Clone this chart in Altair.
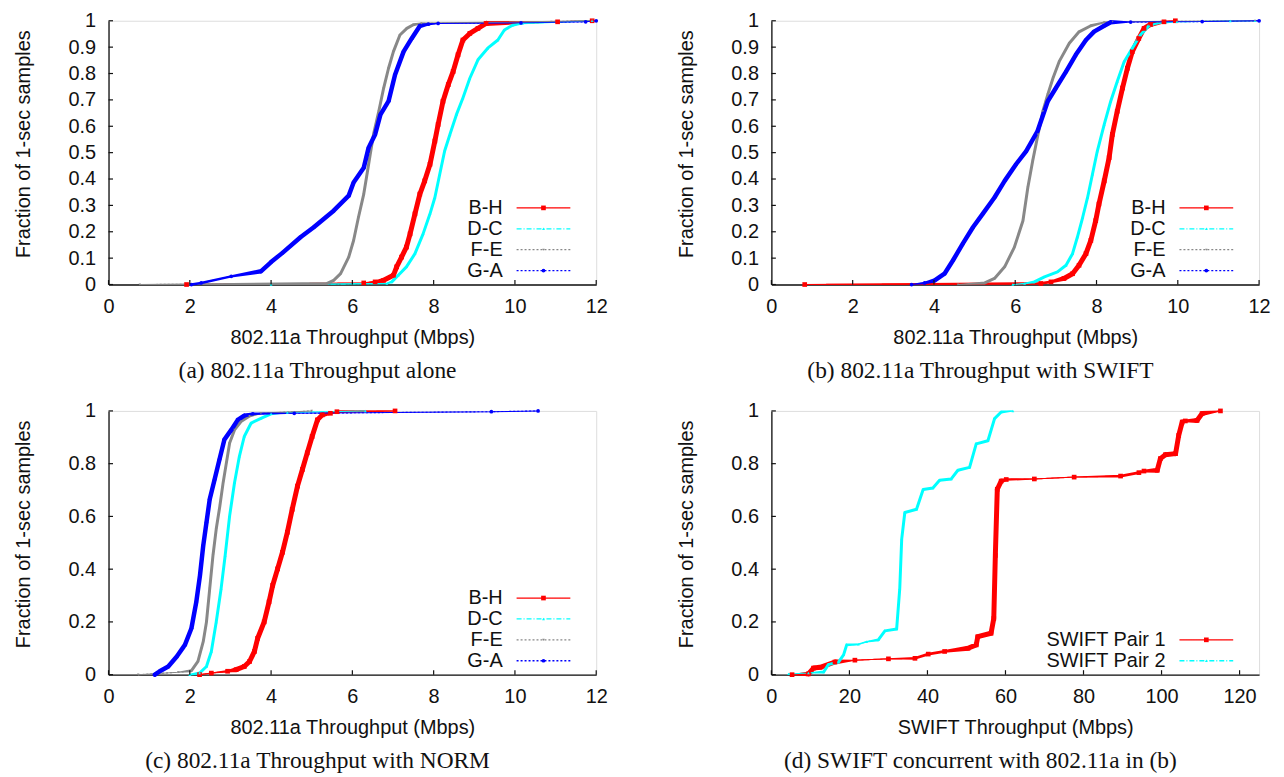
import altair as alt
import pandas as pd

# ---------------- data ----------------
PAIR_NAMES = ["B-H", "D-C", "F-E", "G-A"]
SWIFT_NAMES = ["SWIFT Pair 1", "SWIFT Pair 2"]

# (a) 802.11a alone
BH_a_x = [1.92, 6.28, 6.56, 6.77, 7.01, 7.09, 7.21, 7.33, 7.42, 7.54, 7.66, 7.78, 7.91, 8.03, 8.11, 8.23, 8.36, 8.48, 8.60, 8.72, 8.89, 9.09, 9.29, 11.05, 11.9]
BH_a_y = [0.0, 0.006, 0.010, 0.016, 0.035, 0.067, 0.104, 0.142, 0.192, 0.268, 0.343, 0.393, 0.456, 0.544, 0.607, 0.695, 0.758, 0.808, 0.871, 0.927, 0.952, 0.971, 0.990, 0.996, 1.0]
DC_a_x = [4.0, 6.85, 6.97, 7.13, 7.33, 7.54, 7.74, 7.91, 8.03, 8.15, 8.27, 8.40, 8.56, 8.72, 8.89, 9.09, 9.33, 9.58, 9.74, 9.94, 10.19, 11.9]
DC_a_y = [0.0, 0.004, 0.010, 0.035, 0.067, 0.117, 0.192, 0.268, 0.330, 0.418, 0.506, 0.569, 0.644, 0.707, 0.782, 0.852, 0.896, 0.927, 0.965, 0.983, 0.990, 1.0]
FE_a_x = [0.77, 5.38, 5.54, 5.71, 5.91, 6.03, 6.15, 6.28, 6.36, 6.44, 6.52, 6.65, 6.77, 6.89, 7.01, 7.17, 7.34, 7.50, 7.70, 11.9]
FE_a_y = [0.0, 0.004, 0.016, 0.041, 0.104, 0.167, 0.255, 0.343, 0.418, 0.494, 0.569, 0.657, 0.745, 0.820, 0.883, 0.946, 0.971, 0.985, 0.990, 1.0]
GA_a_x = [2.04, 2.28, 3.02, 3.75, 4.00, 4.28, 4.73, 5.05, 5.54, 5.91, 6.03, 6.28, 6.40, 6.56, 6.69, 6.89, 7.05, 7.26, 7.46, 7.66, 7.87, 8.11, 10.15, 11.74, 12.0]
GA_a_y = [0.0, 0.006, 0.031, 0.050, 0.085, 0.120, 0.180, 0.217, 0.280, 0.337, 0.387, 0.443, 0.519, 0.569, 0.644, 0.695, 0.795, 0.883, 0.933, 0.980, 0.987, 0.990, 0.992, 0.996, 1.0]

# (b) 802.11a with SWIFT
BH_b_x = [0.82, 6.63, 6.88, 7.20, 7.41, 7.57, 7.74, 7.86, 7.98, 8.06, 8.19, 8.31, 8.39, 8.51, 8.64, 8.76, 8.88, 9.04, 9.17, 9.33, 9.66, 9.94]
BH_b_y = [0.0, 0.004, 0.010, 0.023, 0.041, 0.073, 0.117, 0.167, 0.242, 0.305, 0.393, 0.481, 0.569, 0.657, 0.745, 0.820, 0.883, 0.933, 0.971, 0.986, 0.996, 1.0]
DC_b_x = [5.94, 6.23, 6.47, 6.72, 7.04, 7.25, 7.41, 7.53, 7.66, 7.78, 7.90, 8.02, 8.19, 8.35, 8.51, 8.68, 8.88, 9.08, 9.29, 9.49, 9.98, 11.29, 11.9]
DC_b_y = [0.0, 0.004, 0.010, 0.029, 0.048, 0.073, 0.117, 0.180, 0.255, 0.330, 0.418, 0.506, 0.607, 0.695, 0.770, 0.845, 0.896, 0.946, 0.981, 0.990, 0.996, 0.999, 1.0]
FE_b_x = [4.59, 5.25, 5.49, 5.74, 5.98, 6.19, 6.31, 6.43, 6.56, 6.68, 6.80, 6.93, 7.08, 7.33, 7.57, 7.86, 8.19, 8.39, 11.9]
FE_b_y = [0.0, 0.006, 0.023, 0.067, 0.142, 0.242, 0.368, 0.469, 0.569, 0.657, 0.720, 0.783, 0.845, 0.915, 0.958, 0.981, 0.994, 0.996, 1.0]
GA_b_x = [3.45, 3.77, 4.02, 4.26, 4.47, 4.71, 4.96, 5.20, 5.49, 5.74, 6.02, 6.27, 6.55, 6.80, 7.00, 7.25, 7.49, 7.74, 7.94, 8.19, 8.35, 8.84, 10.60, 12.0]
GA_b_y = [0.0, 0.006, 0.016, 0.041, 0.092, 0.155, 0.217, 0.268, 0.330, 0.393, 0.456, 0.506, 0.582, 0.695, 0.745, 0.807, 0.871, 0.927, 0.959, 0.981, 0.994, 0.995, 0.997, 1.0]

# (c) 802.11a with NORM
BH_c_x = [2.24, 2.53, 2.93, 3.14, 3.34, 3.47, 3.59, 3.67, 3.83, 3.95, 4.04, 4.16, 4.28, 4.40, 4.52, 4.65, 4.77, 4.89, 5.01, 5.14, 5.26, 5.46, 5.62, 7.05]
BH_c_y = [0.0, 0.006, 0.013, 0.019, 0.031, 0.050, 0.088, 0.138, 0.200, 0.276, 0.339, 0.401, 0.464, 0.540, 0.627, 0.715, 0.778, 0.841, 0.903, 0.966, 0.985, 0.991, 0.997, 1.0]
DC_c_x = [2.00, 2.24, 2.41, 2.53, 2.65, 2.77, 2.87, 2.98, 3.10, 3.22, 3.34, 3.51, 3.75, 4.00, 4.40, 6.32]
DC_c_y = [0.0, 0.006, 0.031, 0.088, 0.200, 0.326, 0.452, 0.602, 0.728, 0.828, 0.903, 0.954, 0.972, 0.989, 0.994, 1.0]
FE_c_x = [0.73, 1.71, 2.04, 2.20, 2.33, 2.41, 2.49, 2.57, 2.65, 2.74, 2.82, 2.90, 2.98, 3.10, 3.26, 3.47, 3.75, 5.0]
FE_c_y = [0.0, 0.009, 0.015, 0.050, 0.125, 0.200, 0.326, 0.452, 0.552, 0.640, 0.728, 0.803, 0.878, 0.928, 0.960, 0.981, 0.991, 1.0]
GA_c_x = [1.14, 1.26, 1.47, 1.68, 1.88, 2.04, 2.16, 2.25, 2.33, 2.41, 2.49, 2.61, 2.73, 2.85, 3.02, 3.18, 3.34, 3.55, 4.57, 9.42, 10.57]
GA_c_y = [0.0, 0.013, 0.031, 0.069, 0.113, 0.176, 0.276, 0.376, 0.489, 0.577, 0.665, 0.740, 0.816, 0.891, 0.928, 0.966, 0.982, 0.989, 0.991, 0.997, 1.0]

# (d) SWIFT throughput
P1_x = [5.3, 9.5, 10.8, 12.5, 16.3, 21.4, 30.0, 36.8, 40.2, 44.4, 50.4, 52.5, 52.9, 56.3, 57.0, 57.4, 57.9, 58.9, 60.2, 67.4, 77.6, 89.5, 94.2, 95.5, 98.9, 99.7, 101.0, 103.6, 104.4, 105.3, 106.1, 109.1, 110.4, 115.1]
P1_y = [0.0, 0.003, 0.025, 0.028, 0.048, 0.055, 0.060, 0.062, 0.078, 0.088, 0.100, 0.113, 0.144, 0.157, 0.213, 0.452, 0.703, 0.734, 0.740, 0.742, 0.749, 0.753, 0.766, 0.772, 0.775, 0.819, 0.834, 0.838, 0.907, 0.958, 0.962, 0.964, 0.990, 1.0]
P2_x = [4.4, 9.5, 13.4, 14.6, 17.2, 18.5, 19.3, 22.3, 24.4, 27.4, 29.1, 32.1, 32.9, 33.4, 34.2, 37.2, 38.9, 41.4, 43.1, 46.1, 47.8, 50.8, 52.5, 55.5, 57.2, 58.9, 61.9]
P2_y = [0.003, 0.006, 0.010, 0.038, 0.048, 0.075, 0.113, 0.115, 0.125, 0.132, 0.166, 0.173, 0.326, 0.514, 0.615, 0.627, 0.702, 0.708, 0.737, 0.742, 0.775, 0.786, 0.875, 0.887, 0.971, 0.996, 1.0]

TICKS_80211 = [0, 2, 4, 6, 8, 10, 12]
TICKS_SWIFT = [0, 20, 40, 60, 80, 100, 120]
YTICKS_FINE = [0, 0.1, 0.2, 0.3, 0.4, 0.5, 0.6, 0.7, 0.8, 0.9, 1]
YTICKS_COARSE = [0, 0.2, 0.4, 0.6, 0.8, 1]

X_TITLE_80211 = "802.11a Throughput (Mbps)"
X_TITLE_SWIFT = "SWIFT Throughput (Mbps)"
Y_TITLE = "Fraction of 1-sec samples"
CAPTIONS = ["(a) 802.11a Throughput alone", "(b) 802.11a Throughput with SWIFT",
            "(c) 802.11a Throughput with NORM", "(d) SWIFT concurrent with 802.11a in (b)"]

# ---------------- styles ----------------
PAIR_COLORS = ["#ff0000", "#00ffff", "#888888", "#0000ff"]
PAIR_DASH = [[1, 0], [5, 2, 1, 2], [2, 2], [2, 2]]
PAIR_SHAPES = ["square", "triangle-up", "triangle-down", "circle"]
PAIR_MSIZE = [22, 8, 6, 14]
PAIR_THICK = [5, 3, 3, 4.5]

SWIFT_COLORS = ["#ff0000", "#00ffff"]
SWIFT_DASH = [[1, 0], [5, 2, 1, 2]]
SWIFT_SHAPES = ["square", "triangle-up"]
SWIFT_MSIZE = [22, 8]
SWIFT_THICK = [5, 3]

W, H = 490, 265
SANS = "Liberation Sans"
SERIF = "Liberation Serif"
FS = 20


def build_df(series, names, msizes, thicks, xmax):
    sx, sy = W / xmax, H
    rows = []
    for k, (xs, ys) in enumerate(series):
        n = len(xs)
        seg = []
        for i in range(n - 1):
            dx = (xs[i + 1] - xs[i]) * sx
            dy = (ys[i + 1] - ys[i]) * sy
            s = dy / max(dx, 1e-6)
            seg.append(thicks[k] if s > 0.35 else (thicks[k] * 0.55 if s > 0.15 else 0.0))
        for i in range(n):
            adj = []
            if i > 0:
                adj.append(seg[i - 1])
            if i < n - 1:
                adj.append(seg[i])
            rows.append({"series": names[k], "x": xs[i], "y": ys[i], "i": i,
                         "w": max(adj) if adj else 0.0, "ms": msizes[k]})
    return pd.DataFrame(rows)


def make_panel(series, names, colors, dashes, shapes, msizes, thicks, xmax, xticks, yticks,
               xtitle, caption, legend_start):
    df = build_df(series, names, msizes, thicks, xmax)
    xs = alt.Scale(domain=[0, xmax], nice=False, zero=False)
    ys = alt.Scale(domain=[0, 1], nice=False, zero=False)
    xaxis = alt.Axis(values=xticks, format="d", tickSize=0, labelPadding=22, labelBaseline="middle",
                     labelFont=SANS, labelFontSize=FS, labelColor="#111", labelFlush=False,
                     labelOverlap=False, grid=False, domainColor="#111", domainWidth=1.3,
                     title=xtitle, titleFont=SANS, titleFontSize=FS, titleFontWeight="normal",
                     titleColor="#111", titleY=53, titleBaseline="middle")
    yaxis = alt.Axis(values=yticks, format="~g", tickSize=0, labelPadding=13,
                     labelFont=SANS, labelFontSize=FS, labelColor="#111", labelFlush=False,
                     labelOverlap=False, grid=False, domainColor="#111", domainWidth=1.3,
                     title=Y_TITLE, titleFont=SANS, titleFontSize=FS, titleFontWeight="normal",
                     titleColor="#111", titleX=-85.5, titleY=H / 2 - 9, titleBaseline="middle",
                     titleAngle=270)
    color = alt.Color("series:N", scale=alt.Scale(domain=names, range=colors), legend=None)
    dash = alt.StrokeDash("series:N", scale=alt.Scale(domain=names, range=dashes), legend=None)
    shape = alt.Shape("series:N", scale=alt.Scale(domain=names, range=shapes), legend=None)
    X = alt.X("x:Q", scale=xs, axis=xaxis)
    Y = alt.Y("y:Q", scale=ys, axis=yaxis)

    base = alt.Chart(df)
    thin = base.mark_line(strokeWidth=1.1).encode(x=X, y=Y, color=color, strokeDash=dash,
                                                   order="i:Q", detail="series:N")
    thick = base.mark_trail().encode(x=X, y=Y, color=color, size=alt.Size("w:Q", scale=None),
                                     order="i:Q", detail="series:N")
    pts = base.mark_point(filled=True, opacity=1, strokeWidth=0).encode(
        x=X, y=Y, color=color, shape=shape, size=alt.Size("ms:Q", scale=None))

    # legend (gnuplot style: label, then line sample)
    leg = pd.DataFrame({
        "series": names,
        "ms": msizes,
        "ly": [1 - (188 + 21 * (legend_start + j)) / H for j in range(len(names))],
    })
    LY = alt.Y("ly:Q", scale=ys, axis=yaxis)
    lb = alt.Chart(leg)
    leg_text = lb.mark_text(align="right", baseline="middle", font=SANS, fontSize=FS,
                            color="#111").encode(x=alt.value(396), y=LY, text="series:N")
    leg_line = lb.mark_rule(strokeWidth=1.3).encode(x=alt.value(410), x2=alt.value(464), y=LY,
                                                    color=color, strokeDash=dash)
    leg_pt = lb.mark_point(filled=True, opacity=1, strokeWidth=0).encode(
        x=alt.value(437), y=LY, color=color, shape=shape, size=alt.Size("ms:Q", scale=None))

    # inward ticks
    xt = alt.Chart(pd.DataFrame({"x": xticks})).mark_rule(color="#111", strokeWidth=1.2).encode(
        x=X, y=alt.value(H), y2=alt.value(H - 4.5))
    yt = alt.Chart(pd.DataFrame({"y": yticks})).mark_rule(color="#111", strokeWidth=1.2).encode(
        y=Y, x=alt.value(0), x2=alt.value(4.5))

    cap = alt.Chart(pd.DataFrame({"t": [caption]})).mark_text(
        font=SERIF, fontSize=23.5, align="center", baseline="middle", color="#111").encode(
        x=alt.value(210), y=alt.value(H + 87), text="t:N")

    return alt.layer(thin, thick, pts, leg_line, leg_pt, leg_text, xt, yt, cap).resolve_scale(
        size="independent").properties(width=W, height=H)


pa = make_panel([(BH_a_x, BH_a_y), (DC_a_x, DC_a_y), (FE_a_x, FE_a_y), (GA_a_x, GA_a_y)],
                PAIR_NAMES, PAIR_COLORS, PAIR_DASH, PAIR_SHAPES, PAIR_MSIZE, PAIR_THICK,
                12, TICKS_80211, YTICKS_FINE, X_TITLE_80211, CAPTIONS[0], 0)
pb = make_panel([(BH_b_x, BH_b_y), (DC_b_x, DC_b_y), (FE_b_x, FE_b_y), (GA_b_x, GA_b_y)],
                PAIR_NAMES, PAIR_COLORS, PAIR_DASH, PAIR_SHAPES, PAIR_MSIZE, PAIR_THICK,
                12, TICKS_80211, YTICKS_FINE, X_TITLE_80211, CAPTIONS[1], 0)
pc = make_panel([(BH_c_x, BH_c_y), (DC_c_x, DC_c_y), (FE_c_x, FE_c_y), (GA_c_x, GA_c_y)],
                PAIR_NAMES, PAIR_COLORS, PAIR_DASH, PAIR_SHAPES, PAIR_MSIZE, PAIR_THICK,
                12, TICKS_80211, YTICKS_COARSE, X_TITLE_80211, CAPTIONS[2], 0)
pd_ = make_panel([(P1_x, P1_y), (P2_x, P2_y)],
                 SWIFT_NAMES, SWIFT_COLORS, SWIFT_DASH, SWIFT_SHAPES, SWIFT_MSIZE, SWIFT_THICK,
                 125, TICKS_SWIFT, YTICKS_COARSE, X_TITLE_SWIFT, CAPTIONS[3], 2)

chart = alt.concat(pa, pb, pc, pd_, columns=2, spacing={"row": 127, "column": 176},
                   bounds="flush").properties(
    padding={"left": 5, "top": 0, "right": 5, "bottom": 5}
).configure_view(stroke=None).configure(background="white")

chart.save("out.html", embed_options={"renderer": "svg", "actions": False})
